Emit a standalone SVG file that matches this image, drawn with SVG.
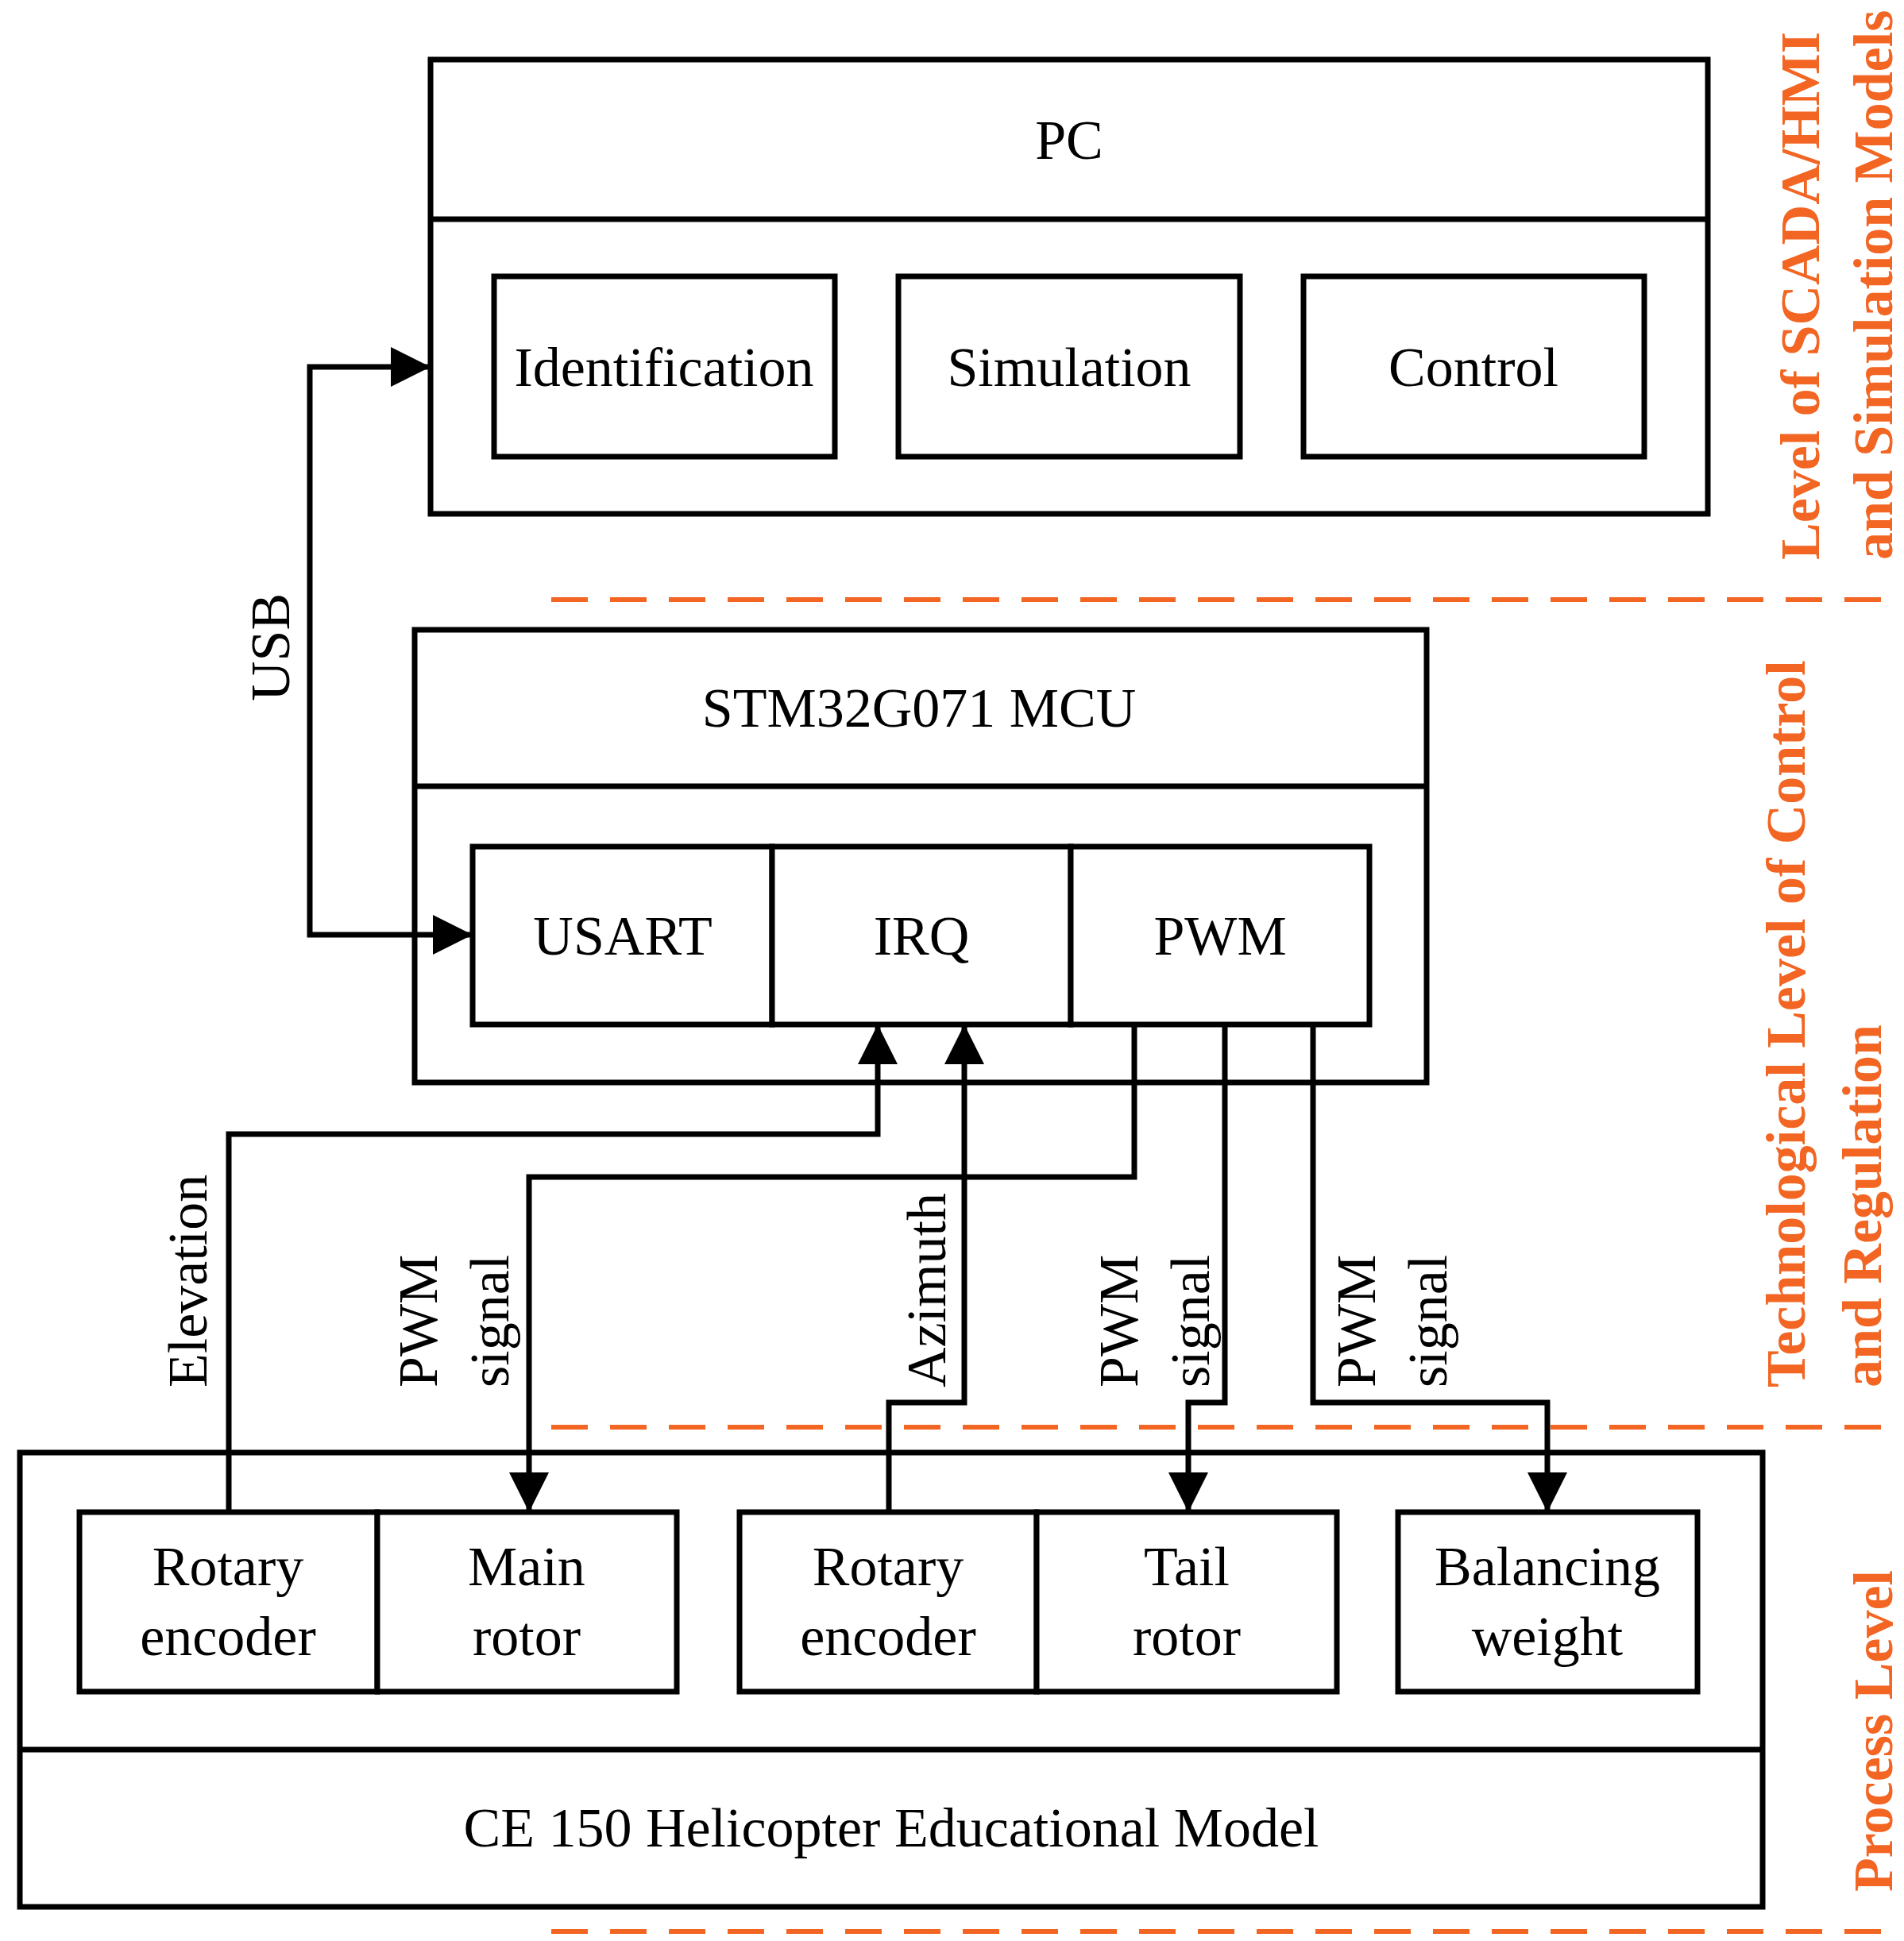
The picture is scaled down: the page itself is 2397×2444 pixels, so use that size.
<svg xmlns="http://www.w3.org/2000/svg" width="2397" height="2444" viewBox="0 0 2397 2444">
<defs>
<style>
.b{fill:#fff;stroke:#000;stroke-width:7}
.l{fill:none;stroke:#000;stroke-width:7}
.t{font-family:"Liberation Serif",serif;font-size:70px;fill:#000;text-anchor:middle}
.o{font-family:"Liberation Serif",serif;font-size:70px;font-weight:bold;fill:#f26522}
.d{fill:none;stroke:#f26522;stroke-width:6;stroke-dasharray:46,28}
</style>
<marker id="ah" viewBox="0 0 10 10" refX="10" refY="5" markerWidth="50" markerHeight="50" markerUnits="userSpaceOnUse" orient="auto-start-reverse"><path d="M0,0 L10,5 L0,10 Z" fill="#000"/></marker>
</defs>
<g id="dashes">
<line class="d" x1="694" y1="755" x2="2382" y2="755"/>
<line class="d" x1="694" y1="1797" x2="2382" y2="1797"/>
<line class="d" x1="694" y1="2432" x2="2382" y2="2432"/>
</g>
<g id="levels">
<text class="o" transform="translate(2290,705) rotate(-90)">Level of SCADA/HMI</text>
<text class="o" transform="translate(2382,705) rotate(-90)">and Simulation Models</text>
<text class="o" transform="translate(2272,1747) rotate(-90)">Technological Level of Control</text>
<text class="o" transform="translate(2368,1747) rotate(-90)">and Regulation</text>
<text class="o" transform="translate(2382,2382) rotate(-90)">Process Level</text>
</g>
<g id="pc">
<rect class="b" x="542" y="75" width="1608" height="572"/>
<line class="l" x1="542" y1="276" x2="2150" y2="276"/>
<text class="t" x="1346" y="200">PC</text>
</g>
<g id="identification"><rect class="b" x="622" y="348" width="429" height="227"/><text class="t" x="836" y="486">Identification</text></g>
<g id="simulation"><rect class="b" x="1131" y="348" width="430" height="227"/><text class="t" x="1346" y="486">Simulation</text></g>
<g id="control"><rect class="b" x="1641" y="348" width="429" height="227"/><text class="t" x="1855" y="486">Control</text></g>
<g id="mcu">
<rect class="b" x="522" y="793" width="1274" height="570"/>
<line class="l" x1="522" y1="990" x2="1796" y2="990"/>
<text class="t" x="1157" y="915">STM32G071 MCU</text>
</g>
<g id="usart"><rect class="b" x="595" y="1066" width="377" height="224"/><text class="t" x="784" y="1202">USART</text></g>
<g id="irq"><rect class="b" x="972" y="1066" width="376" height="224"/><text class="t" x="1160" y="1202">IRQ</text></g>
<g id="pwm"><rect class="b" x="1348" y="1066" width="376" height="224"/><text class="t" x="1536" y="1202">PWM</text></g>
<g id="heli">
<rect class="b" x="25" y="1829" width="2194" height="572"/>
<line class="l" x1="25" y1="2203" x2="2219" y2="2203"/>
<text class="t" x="1122" y="2325">CE 150 Helicopter Educational Model</text>
</g>
<g id="enc1"><rect class="b" x="100" y="1904" width="375" height="226"/><text class="t" x="287" y="1996">Rotary</text><text class="t" x="287" y="2084">encoder</text></g>
<g id="mainrotor"><rect class="b" x="475" y="1904" width="377" height="226"/><text class="t" x="663" y="1996">Main</text><text class="t" x="663" y="2084">rotor</text></g>
<g id="enc2"><rect class="b" x="931" y="1904" width="374" height="226"/><text class="t" x="1118" y="1996">Rotary</text><text class="t" x="1118" y="2084">encoder</text></g>
<g id="tailrotor"><rect class="b" x="1305" y="1904" width="378" height="226"/><text class="t" x="1494" y="1996">Tail</text><text class="t" x="1494" y="2084">rotor</text></g>
<g id="balancing"><rect class="b" x="1760" y="1904" width="377" height="226"/><text class="t" x="1948" y="1996">Balancing</text><text class="t" x="1948" y="2084">weight</text></g>
<g id="connectors">
<polyline class="l" points="542,462 390,462 390,1177 595,1177" marker-start="url(#ah)" marker-end="url(#ah)"/>
<polyline class="l" points="288,1904 288,1428 1105,1428 1105,1290" marker-end="url(#ah)"/>
<polyline class="l" points="1428,1290 1428,1482 666,1482 666,1904" marker-end="url(#ah)"/>
<polyline class="l" points="1119,1904 1119,1766 1214,1766 1214,1290" marker-end="url(#ah)"/>
<polyline class="l" points="1542,1290 1542,1766 1496,1766 1496,1904" marker-end="url(#ah)"/>
<polyline class="l" points="1653,1290 1653,1766 1948,1766 1948,1904" marker-end="url(#ah)"/>
</g>
<g id="labels">
<text class="t" transform="translate(364,815) rotate(-90)">USB</text>
<text class="t" style="text-anchor:start" transform="translate(260,1747) rotate(-90)">Elevation</text>
<text class="t" style="text-anchor:start" transform="translate(550,1747) rotate(-90)">PWM</text>
<text class="t" style="text-anchor:start" transform="translate(640,1747) rotate(-90)">signal</text>
<text class="t" style="text-anchor:start" transform="translate(1190,1747) rotate(-90)">Azimuth</text>
<text class="t" style="text-anchor:start" transform="translate(1432,1747) rotate(-90)">PWM</text>
<text class="t" style="text-anchor:start" transform="translate(1522,1747) rotate(-90)">signal</text>
<text class="t" style="text-anchor:start" transform="translate(1731,1747) rotate(-90)">PWM</text>
<text class="t" style="text-anchor:start" transform="translate(1821,1747) rotate(-90)">signal</text>
</g>
</svg>
